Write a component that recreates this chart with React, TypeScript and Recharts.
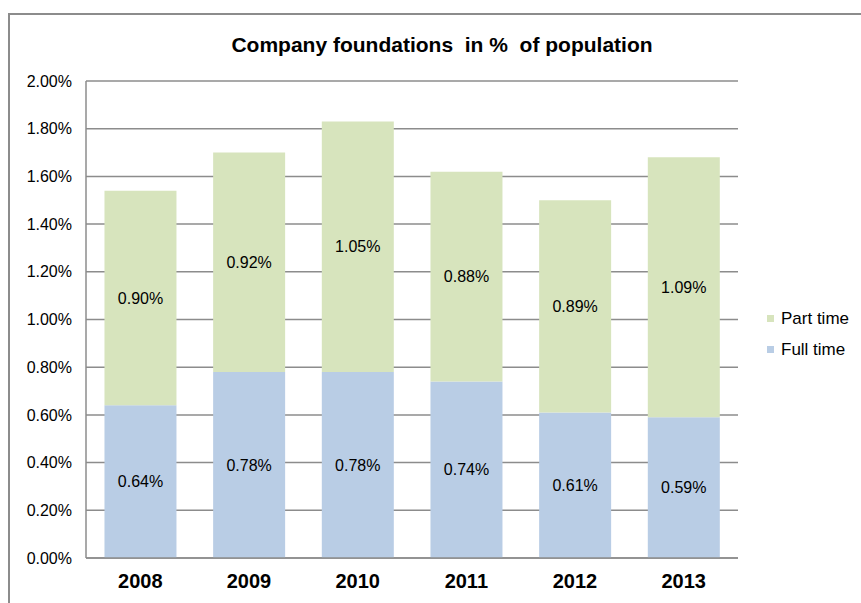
import React from 'react';
import { BarChart, Bar, XAxis, YAxis, CartesianGrid, LabelList } from 'recharts';

const years = ['2008', '2009', '2010', '2011', '2012', '2013'];
const fullTime = [0.64, 0.78, 0.78, 0.74, 0.61, 0.59];
const partTime = [0.9, 0.92, 1.05, 0.88, 0.89, 1.09];
const yTicks = [0, 0.2, 0.4, 0.6, 0.8, 1.0, 1.2, 1.4, 1.6, 1.8, 2.0];

const data = years.map((year, i) => ({ year, full: fullTime[i], part: partTime[i] }));

const FONT = "Arial, 'Liberation Sans', sans-serif";
const GREEN = '#d7e4bd';
const BLUE = '#b9cde5';
const GRID = '#8c8c8c';

const pct = (v: number) => `${v.toFixed(2)}%`;

const legendItems = [
  { label: 'Part time', color: GREEN },
  { label: 'Full time', color: BLUE },
];

function LegendBox() {
  return (
    <div style={{ position: 'absolute', left: 767, top: 303, fontFamily: FONT, fontSize: 17, color: '#000' }}>
      {legendItems.map((it) => (
        <div key={it.label} style={{ display: 'flex', alignItems: 'center', height: 31 }}>
          <span style={{ width: 7, height: 7, background: it.color, marginRight: 7, display: 'inline-block' }} />
          <span>{it.label}</span>
        </div>
      ))}
    </div>
  );
}

export default function App() {
  return (
    <div style={{ position: 'absolute', left: 0, top: 0, width: 861, height: 603, overflow: 'hidden', background: '#fff' }}>
      <div
        style={{
          position: 'absolute',
          left: 8,
          top: 13,
          width: 900,
          height: 700,
          border: '2px solid #8c8c8c',
        }}
      />
      <div
        style={{
          position: 'absolute',
          left: 0,
          top: 32,
          width: 884,
          textAlign: 'center',
          fontFamily: FONT,
          fontWeight: 'bold',
          fontSize: 21,
          lineHeight: '26px',
          whiteSpace: 'pre',
        }}
      >
        {'Company foundations  in %  of population'}
      </div>
      <div style={{ position: 'absolute', left: 0, top: 0 }}>
        <BarChart
          width={861}
          height={603}
          data={data}
          margin={{ top: 81, right: 123, bottom: 0, left: 0 }}
          barCategoryGap="17%"
        >
          <CartesianGrid vertical={false} stroke={GRID} strokeWidth={1.5} />
          <XAxis
            dataKey="year"
            height={45}
            tickLine={false}
            tickSize={0}
            tickMargin={16}
            axisLine={{ stroke: GRID, strokeWidth: 1.5 }}
            tick={{ fill: '#000', fontSize: 20, fontWeight: 'bold', fontFamily: FONT }}
          />
          <YAxis
            width={86}
            domain={[0, 2]}
            ticks={yTicks}
            interval={0}
            tickFormatter={pct}
            tickLine={false}
            tickSize={0}
            tickMargin={14}
            axisLine={{ stroke: GRID, strokeWidth: 1.5 }}
            tick={{ fill: '#000', fontSize: 16, fontFamily: FONT }}
          />
          <Bar dataKey="full" name="Full time" stackId="a" fill={BLUE} isAnimationActive={false}>
            <LabelList dataKey="full" position="center" formatter={(v: any) => pct(Number(v))} fill="#000" fontSize={16} fontFamily={FONT} />
          </Bar>
          <Bar dataKey="part" name="Part time" stackId="a" fill={GREEN} isAnimationActive={false}>
            <LabelList dataKey="part" position="center" formatter={(v: any) => pct(Number(v))} fill="#000" fontSize={16} fontFamily={FONT} />
          </Bar>
        </BarChart>
      </div>
      <LegendBox />
    </div>
  );
}
